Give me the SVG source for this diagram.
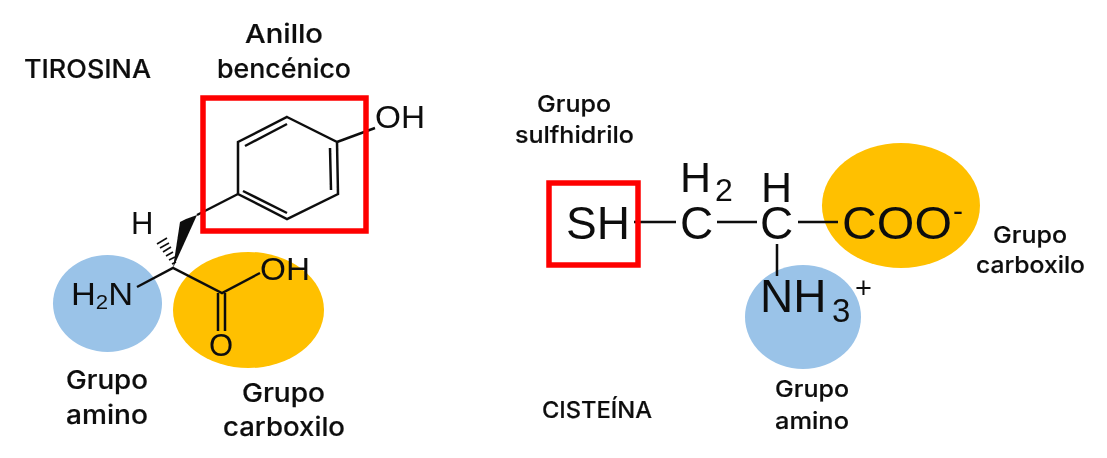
<svg xmlns="http://www.w3.org/2000/svg" width="1107" height="458" viewBox="0 0 1107 458">
<style>
.chem{font-family:"Liberation Sans",Arial,sans-serif;fill:#111}
.lab{font-family:"Inter","Open Sans",sans-serif;font-weight:500;fill:#111;text-anchor:start;stroke:#111;stroke-width:0.200}
.big{font-size:26px}
.small{font-size:23.500px}
.bond{stroke:#111;stroke-width:2.500;fill:none;stroke-linecap:butt}
.box{fill:none;stroke:#fe0000;stroke-width:5.500}
.blue{fill:#9ac3e8}
.orange{fill:#ffc000}
</style>
<defs><filter id="soft" x="-5%" y="-5%" width="110%" height="110%"><feGaussianBlur stdDeviation="0.5"/></filter></defs>
<rect width="1107" height="458" fill="#fff"/>
<g filter="url(#soft)">
<g id="tirosina-amino"><ellipse class="blue" cx="107.500" cy="303.500" rx="54.500" ry="48.500"/></g>
<g id="tirosina-carboxilo"><ellipse class="orange" cx="248.500" cy="310" rx="75.500" ry="58"/></g>
<g id="cisteina-carboxilo"><ellipse class="orange" cx="901" cy="205.500" rx="79" ry="62.500"/></g>
<g id="cisteina-amino"><ellipse class="blue" cx="803" cy="317" rx="58" ry="52"/></g>
<g id="connectors">
<path class="bond" d="M287 117L337 142L338 194L287 219L238 194L238 142Z"/>
<path class="bond" d="M245 146L287 124M330 148L331 190M243 191L287 213M337 142L375 128M238 194L197 215M137 287L173 268L222 293L260 273"/>
<path class="bond" d="M218 293V331M225 293V331"/>
<path d="M173 268L180 222L186 219L197 215Z" fill="#111"/>
<path d="M172 264L176 262M169 260L175 257M166 256L173 252M163 252L171 247M160 248L169 243M157 244L167 238" stroke="#111" stroke-width="1.600" fill="none"/>
<path class="bond" d="M634 222H676M717 222H757M798 222H838M777 244V276"/>
</g>
<g id="tirosina-anillo"><rect class="box" x="203" y="98" width="163" height="133"/><text class="chem" x="375" y="128" font-size="31" textLength="50" lengthAdjust="spacingAndGlyphs">OH</text></g>
<g id="tirosina-atomos">
<text class="chem" x="131" y="234" font-size="31">H</text>
<text class="chem" x="71" y="305" font-size="31" textLength="62" lengthAdjust="spacingAndGlyphs">H<tspan font-size="20" dy="4">2</tspan><tspan dy="-4">N</tspan></text>
<text class="chem" x="260" y="280" font-size="32" textLength="50" lengthAdjust="spacingAndGlyphs">OH</text>
<text class="chem" x="209" y="356" font-size="31">O</text>
</g>
<g id="cisteina-tiol"><rect class="box" x="549" y="183" width="89" height="82"/><text class="chem" x="566" y="239" font-size="46">SH</text></g>
<g id="cisteina-atomos">
<text class="chem" x="680" y="239" font-size="46">C</text>
<text class="chem" x="680" y="192" font-size="43">H</text>
<text class="chem" x="715" y="201" font-size="32">2</text>
<text class="chem" x="761" y="202" font-size="43">H</text>
<text class="chem" x="760" y="239" font-size="46">C</text>
<text class="chem" x="842" y="239" font-size="46" textLength="110" lengthAdjust="spacingAndGlyphs">COO</text>
<text class="chem" x="953" y="221" font-size="30">-</text>
<text class="chem" x="760" y="312" font-size="46">NH</text>
<text class="chem" x="832" y="322" font-size="33">3</text>
<text class="chem" x="855" y="298" font-size="29">+</text>
</g>
<g id="etiquetas">
<text class="lab big" x="24" y="78" textLength="127" lengthAdjust="spacingAndGlyphs">TIROSINA</text>
<text class="lab big" x="245" y="43" textLength="78" lengthAdjust="spacingAndGlyphs">Anillo</text>
<text class="lab big" x="217" y="78" textLength="134" lengthAdjust="spacingAndGlyphs">bencénico</text>
<text class="lab big" x="66" y="389" textLength="82" lengthAdjust="spacingAndGlyphs">Grupo</text>
<text class="lab big" x="66" y="424" textLength="82" lengthAdjust="spacingAndGlyphs">amino</text>
<text class="lab big" x="242" y="402" textLength="83" lengthAdjust="spacingAndGlyphs">Grupo</text>
<text class="lab big" x="223" y="436" textLength="122" lengthAdjust="spacingAndGlyphs">carboxilo</text>
<text class="lab small" x="537" y="112" textLength="74" lengthAdjust="spacingAndGlyphs">Grupo</text>
<text class="lab small" x="515" y="143" textLength="119" lengthAdjust="spacingAndGlyphs">sulfhidrilo</text>
<text class="lab small" x="542" y="418" textLength="110" lengthAdjust="spacingAndGlyphs">CISTEÍNA</text>
<text class="lab small" x="775" y="397" textLength="74" lengthAdjust="spacingAndGlyphs">Grupo</text>
<text class="lab small" x="775" y="429" textLength="74" lengthAdjust="spacingAndGlyphs">amino</text>
<text class="lab small" x="993" y="243" textLength="74" lengthAdjust="spacingAndGlyphs">Grupo</text>
<text class="lab small" x="976" y="273" textLength="109" lengthAdjust="spacingAndGlyphs">carboxilo</text>
</g>
</g>
</svg>
